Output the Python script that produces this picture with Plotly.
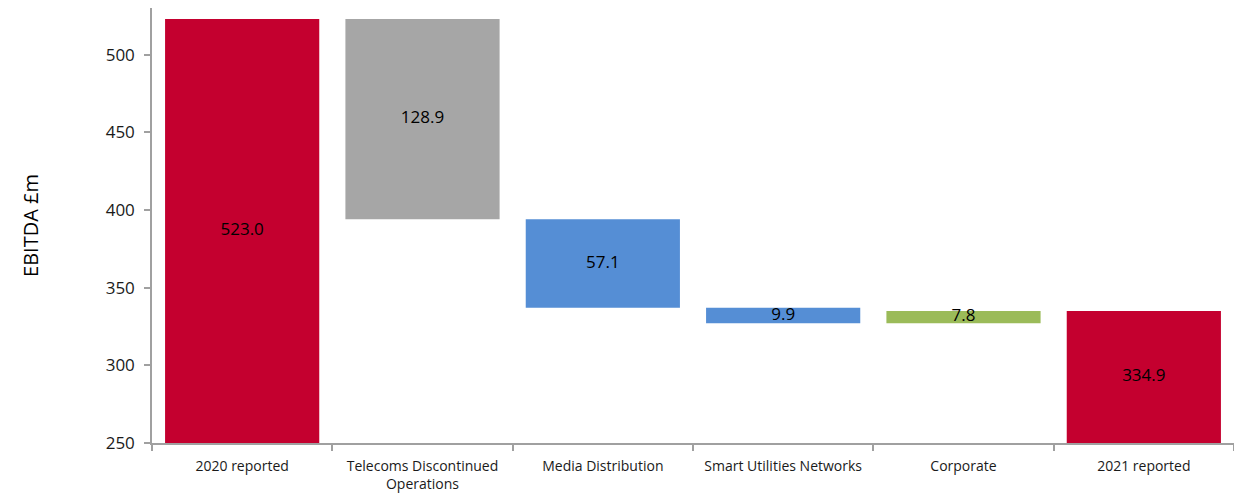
import plotly.graph_objects as go

categories = ["2020 reported", "Telecoms Discontinued<br>Operations", "Media Distribution",
              "Smart Utilities Networks", "Corporate", "2021 reported"]
changes = [523.0, -128.9, -57.1, -9.9, 7.8, 334.9]
kinds = ["total", "step", "step", "step", "step", "total"]
colors = ["#C4002F", "#A6A6A6", "#558ED5", "#558ED5", "#9BBB59", "#C4002F"]

y_min, y_max = 250, 530

# floating bars: base + height
bases, heights = [], []
running = 0.0
for v, k in zip(changes, kinds):
    if k == "total":
        bases.append(0.0)
        heights.append(v)
        running = v
    else:
        new = running + v
        bases.append(min(running, new))
        heights.append(abs(v))
        running = new

label_y = [(max(b, y_min) + b + h) / 2 for b, h in zip(bases, heights)]
labels = [f"{abs(v):.1f}" for v in changes]

font = "Open Sans, Noto Sans, sans-serif"

fig = go.Figure()
fig.add_trace(go.Bar(
    x=categories, y=heights, base=bases,
    marker=dict(color=colors, line=dict(width=0)),
    width=0.855, hoverinfo="skip", showlegend=False,
))
fig.add_trace(go.Scatter(
    x=categories, y=label_y, mode="text", text=labels,
    textfont=dict(family=font, size=17, color="#000000"),
    hoverinfo="skip", showlegend=False,
))

fig.update_layout(
    width=1234, height=501,
    margin=dict(l=152, r=0, t=8, b=58),
    paper_bgcolor="white", plot_bgcolor="white",
    font=dict(family=font, color="#222222"),
    bargap=0.145,
    xaxis=dict(
        type="category", tickson="boundaries", automargin=False,
        ticks="outside", ticklen=6, tickcolor="#A0A0A0", tickwidth=1.5,
        showline=True, linecolor="#A0A0A0", linewidth=1.5,
        tickfont=dict(size=14, color="#1a1a1a"), ticklabelstandoff=9,
        showgrid=False, range=[-0.5, 5.5],
    ),
    yaxis=dict(
        range=[y_min, y_max], tickvals=[250, 300, 350, 400, 450, 500],
        automargin=False,
        ticks="outside", ticklen=6, tickcolor="#A0A0A0", tickwidth=1.5,
        showline=True, linecolor="#A0A0A0", linewidth=1.5,
        showgrid=False, zeroline=False,
        tickfont=dict(size=17, color="#1a1a1a"), ticklabelstandoff=6,
        title=dict(text="EBITDA £m", font=dict(size=20, color="#000000"), standoff=62),
    ),
)

fig.write_html("out.html", config={"displayModeBar": False},
               post_script="document.body.style.margin='0';")
